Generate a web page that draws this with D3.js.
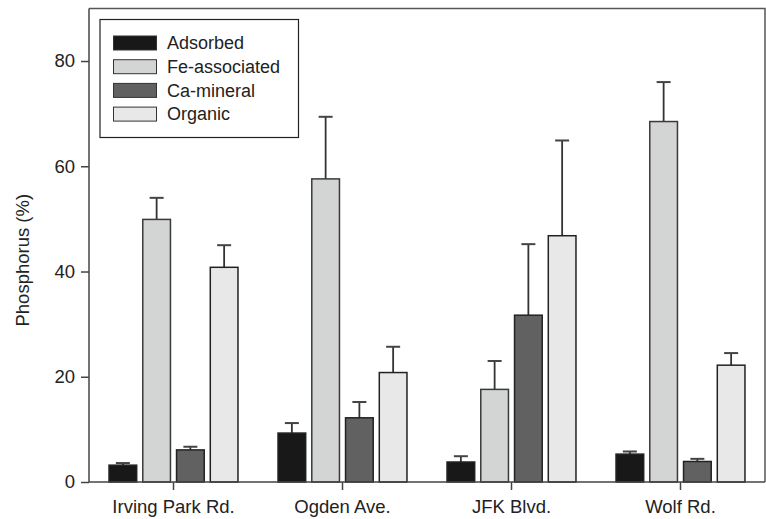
<!DOCTYPE html>
<html>
<head>
<meta charset="utf-8">
<script src="https://cdn.jsdelivr.net/npm/d3@7"></script>
<style>
  html, body { margin: 0; padding: 0; background: #fff; }
  svg { display: block; font-family: "Liberation Sans", Arial, sans-serif; }
</style>
</head>
<body>
<svg id="chart" width="766" height="519"></svg>
<script>
// ---- data ----
const categories = ["Irving Park Rd.", "Ogden Ave.", "JFK Blvd.", "Wolf Rd."];
const seriesNames = ["Adsorbed", "Fe-associated", "Ca-mineral", "Organic"];
const adsorbed      = [3.2, 9.3, 3.8, 5.3];
const adsorbedErr   = [0.4, 1.9, 1.1, 0.5];
const feAssoc       = [49.9, 57.6, 17.6, 68.5];
const feAssocErr    = [4.1, 11.8, 5.4, 7.5];
const caMineral     = [6.1, 12.2, 31.7, 3.9];
const caMineralErr  = [0.6, 3.0, 13.5, 0.5];
const organic       = [40.8, 20.8, 46.8, 22.2];
const organicErr    = [4.2, 4.9, 18.1, 2.3];
const yTicks = [0, 20, 40, 60, 80];
const yTitle = "Phosphorus (%)";

const seriesValues = [adsorbed, feAssoc, caMineral, organic];
const seriesErrors = [adsorbedErr, feAssocErr, caMineralErr, organicErr];
const fills = ["#181818", "#d3d5d4", "#616161", "#e8e8e8"];

const svg = d3.select("#chart");
const pLeft = 89, pRight = 765, pTop = 8.4, pBottom = 482;
const fontSize = 18.5;

const x0 = d3.scaleBand().domain(categories).range([pLeft, pRight])
  .paddingInner(0.237).paddingOuter(0.1185);
const x1 = d3.scaleBand().domain(seriesNames).range([0, x0.bandwidth()])
  .paddingInner(0.18).paddingOuter(0);
const y = d3.scaleLinear().domain([0, 90]).range([pBottom, pTop]);

// frame (top and right)
svg.append("path")
  .attr("d", `M${pLeft},${y(90)}H${pRight}V${pBottom}`)
  .attr("fill", "none").attr("stroke", "#555").attr("stroke-width", 1.5);

// bars
const rows = [];
categories.forEach((c, i) => {
  seriesNames.forEach((s, j) => {
    rows.push({ cat: c, ser: s, j, v: seriesValues[j][i], e: seriesErrors[j][i] });
  });
});

const g = svg.append("g");
rows.forEach(d => {
  const cx = x0(d.cat) + x1(d.ser) + x1.bandwidth() / 2;
  g.append("line")
    .attr("x1", cx).attr("x2", cx)
    .attr("y1", y(d.v)).attr("y2", y(d.v + d.e))
    .attr("stroke", "#333").attr("stroke-width", 1.8);
  g.append("line")
    .attr("x1", cx - 7).attr("x2", cx + 7)
    .attr("y1", y(d.v + d.e)).attr("y2", y(d.v + d.e))
    .attr("stroke", "#444").attr("stroke-width", 2);
});
g.selectAll("rect.bar").data(rows).join("rect")
  .attr("class", "bar")
  .attr("x", d => x0(d.cat) + x1(d.ser))
  .attr("width", x1.bandwidth())
  .attr("y", d => y(d.v))
  .attr("height", d => y(0) - y(d.v))
  .attr("fill", d => fills[d.j])
  .attr("stroke", d => d.j === 1 ? "#3a3a3a" : "#222")
  .attr("stroke-width", 1.5);

// y axis
const yAxis = d3.axisLeft(y).tickValues(yTicks).tickSize(8).tickSizeOuter(0).tickPadding(6);
const ya = svg.append("g").attr("transform", `translate(${pLeft},0)`).call(yAxis);
ya.select(".domain").attr("stroke", "#444").attr("stroke-width", 1.5)
  .attr("d", `M0,${pBottom}V${y(90)}`);
ya.selectAll(".tick line").attr("stroke", "#444").attr("stroke-width", 1.5);
ya.selectAll(".tick text").attr("font-size", fontSize).attr("fill", "#222")
  .attr("font-family", "Liberation Sans, Arial, sans-serif");

// x axis
const xAxis = d3.axisBottom(x0).tickSize(8).tickSizeOuter(0).tickPadding(10);
const xa = svg.append("g").attr("transform", `translate(0,${pBottom})`).call(xAxis);
xa.select(".domain").attr("stroke", "#444").attr("stroke-width", 1.5)
  .attr("d", `M${pLeft},0H${pRight}`);
xa.selectAll(".tick line").attr("stroke", "#444").attr("stroke-width", 1.5);
xa.selectAll(".tick text").attr("font-size", fontSize).attr("fill", "#222")
  .attr("font-family", "Liberation Sans, Arial, sans-serif");

// y title
svg.append("text")
  .attr("transform", `translate(29,${(pTop + pBottom) / 2 + 15}) rotate(-90)`)
  .attr("text-anchor", "middle")
  .attr("font-size", fontSize).attr("fill", "#222")
  .text(yTitle);

// legend
const lg = svg.append("g");
lg.append("rect").attr("x", 100).attr("y", 19.5).attr("width", 198.5).attr("height", 118)
  .attr("fill", "#fff").attr("stroke", "#222").attr("stroke-width", 1.2);
seriesNames.forEach((s, j) => {
  const cy = 43 + j * 23.7;
  lg.append("rect").attr("x", 113.5).attr("y", cy - 7).attr("width", 43).attr("height", 14)
    .attr("fill", fills[j]).attr("stroke", "#333").attr("stroke-width", 1);
  lg.append("text").attr("x", 167).attr("y", cy).attr("dy", "0.35em")
    .attr("font-size", 18).attr("fill", "#222").text(s);
});
</script>
</body>
</html>
